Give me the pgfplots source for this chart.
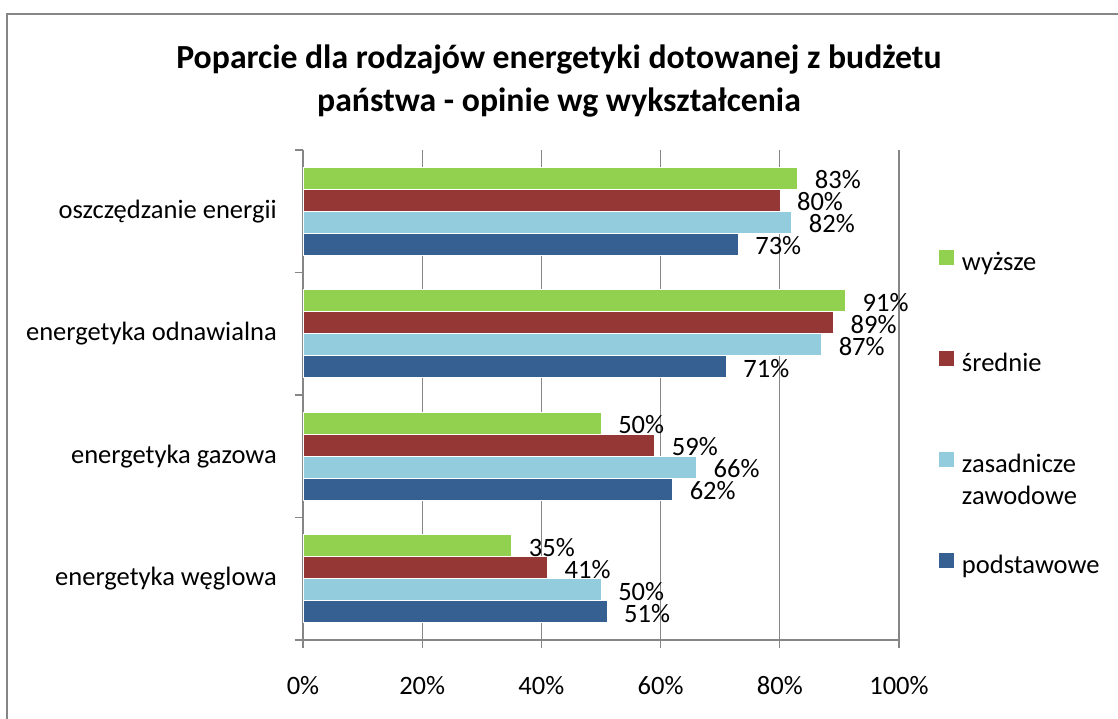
\documentclass[border=0pt]{standalone}
\usepackage{pgfplots}
\pgfplotsset{compat=1.18}
\usepackage{fontspec}
\setmainfont{Carlito}
\definecolor{cgreen}{RGB}{146,208,80}
\definecolor{cred}{RGB}{149,55,53}
\definecolor{clblue}{RGB}{147,205,221}
\definecolor{cdblue}{RGB}{55,96,146}
\definecolor{axgray}{RGB}{134,134,134}
\begin{document}
\begin{tikzpicture}[font=\fontsize{19.9}{24}\selectfont]
\useasboundingbox (-227.25pt,-58.5pt) rectangle (611.25pt,480pt);
\draw[axgray, line width=1pt] (-222pt,-80pt) -- (-222pt,469.5pt) -- (640pt,469.5pt);
\begin{axis}[
  scale only axis, width=447pt, height=367.5pt,
  at={(0pt,0pt)}, anchor=south west,
  xmin=0, xmax=100, ymin=-0.5, ymax=3.5,
  xbar, bar width=16.5pt,
  axis x line*=bottom, axis y line*=left,
  axis line style={draw=axgray, line width=1pt, -},
  xtick={0,20,40,60,80,100},
  xticklabels={0\%,20\%,40\%,60\%,80\%,100\%},
  xticklabel style={inner sep=0pt, yshift=-21pt},
  ytick={-0.5,0.5,1.5,2.5,3.5}, yticklabels={},
  extra y ticks={0,1,2,3},
  extra y tick labels={energetyka węglowa,energetyka gazowa,energetyka odnawialna,oszczędzanie energii},
  extra y tick style={major tick length=0pt, yticklabel style={inner sep=0pt, xshift=-19.5pt}},
  tick align=outside, major tick length=6pt,
  tick style={draw=axgray, line width=1pt},
  xmajorgrids, grid style={draw=axgray, line width=1pt},
  /pgf/number format/assume math mode=true,
  point meta=x,
  nodes near coords={\pgfmathprintnumber{\pgfplotspointmeta}\%},
  every node near coord/.append style={anchor=west, inner sep=0pt, xshift=12.75pt, yshift=-1pt, text=black},
  title={Poparcie dla rodzajów energetyki dotowanej z budżetu\\państwa - opinie wg wykształcenia},
  title style={font=\bfseries\fontsize{25.3}{32}\selectfont, align=center, at={(0.4295,1.199)}, anchor=north, inner sep=0pt},
  legend cell align=left,
  legend image code/.code={\fill[#1, draw=none] (0pt,-0.8pt) rectangle (11.25pt,10.45pt);},
  legend style={draw=none, fill=none, at={(1.0671,0.795)}, anchor=north west, inner sep=0pt, outer sep=0pt, row sep=55.8pt, column sep=6pt, nodes={inner sep=0pt, text height=14pt, text depth=5pt}},
]
\addplot[fill=cgreen, draw=white, line width=0.4pt, bar shift=24.75pt] coordinates {(35,0) (50,1) (91,2) (83,3)};
\addlegendentry{wyższe}
\addplot[fill=cred, draw=white, line width=0.4pt, bar shift=8.25pt] coordinates {(41,0) (59,1) (89,2) (80,3)};
\addlegendentry{średnie}
\addplot[fill=clblue, draw=white, line width=0.4pt, bar shift=-8.25pt] coordinates {(50,0) (66,1) (87,2) (82,3)};
\addlegendentry{\begin{tabular}[t]{@{}l@{}}zasadnicze\\zawodowe\end{tabular}}
\addplot[fill=cdblue, draw=white, line width=0.4pt, bar shift=-24.75pt] coordinates {(51,0) (62,1) (71,2) (73,3)};
\addlegendentry{podstawowe}
\end{axis}
\end{tikzpicture}
\end{document}
